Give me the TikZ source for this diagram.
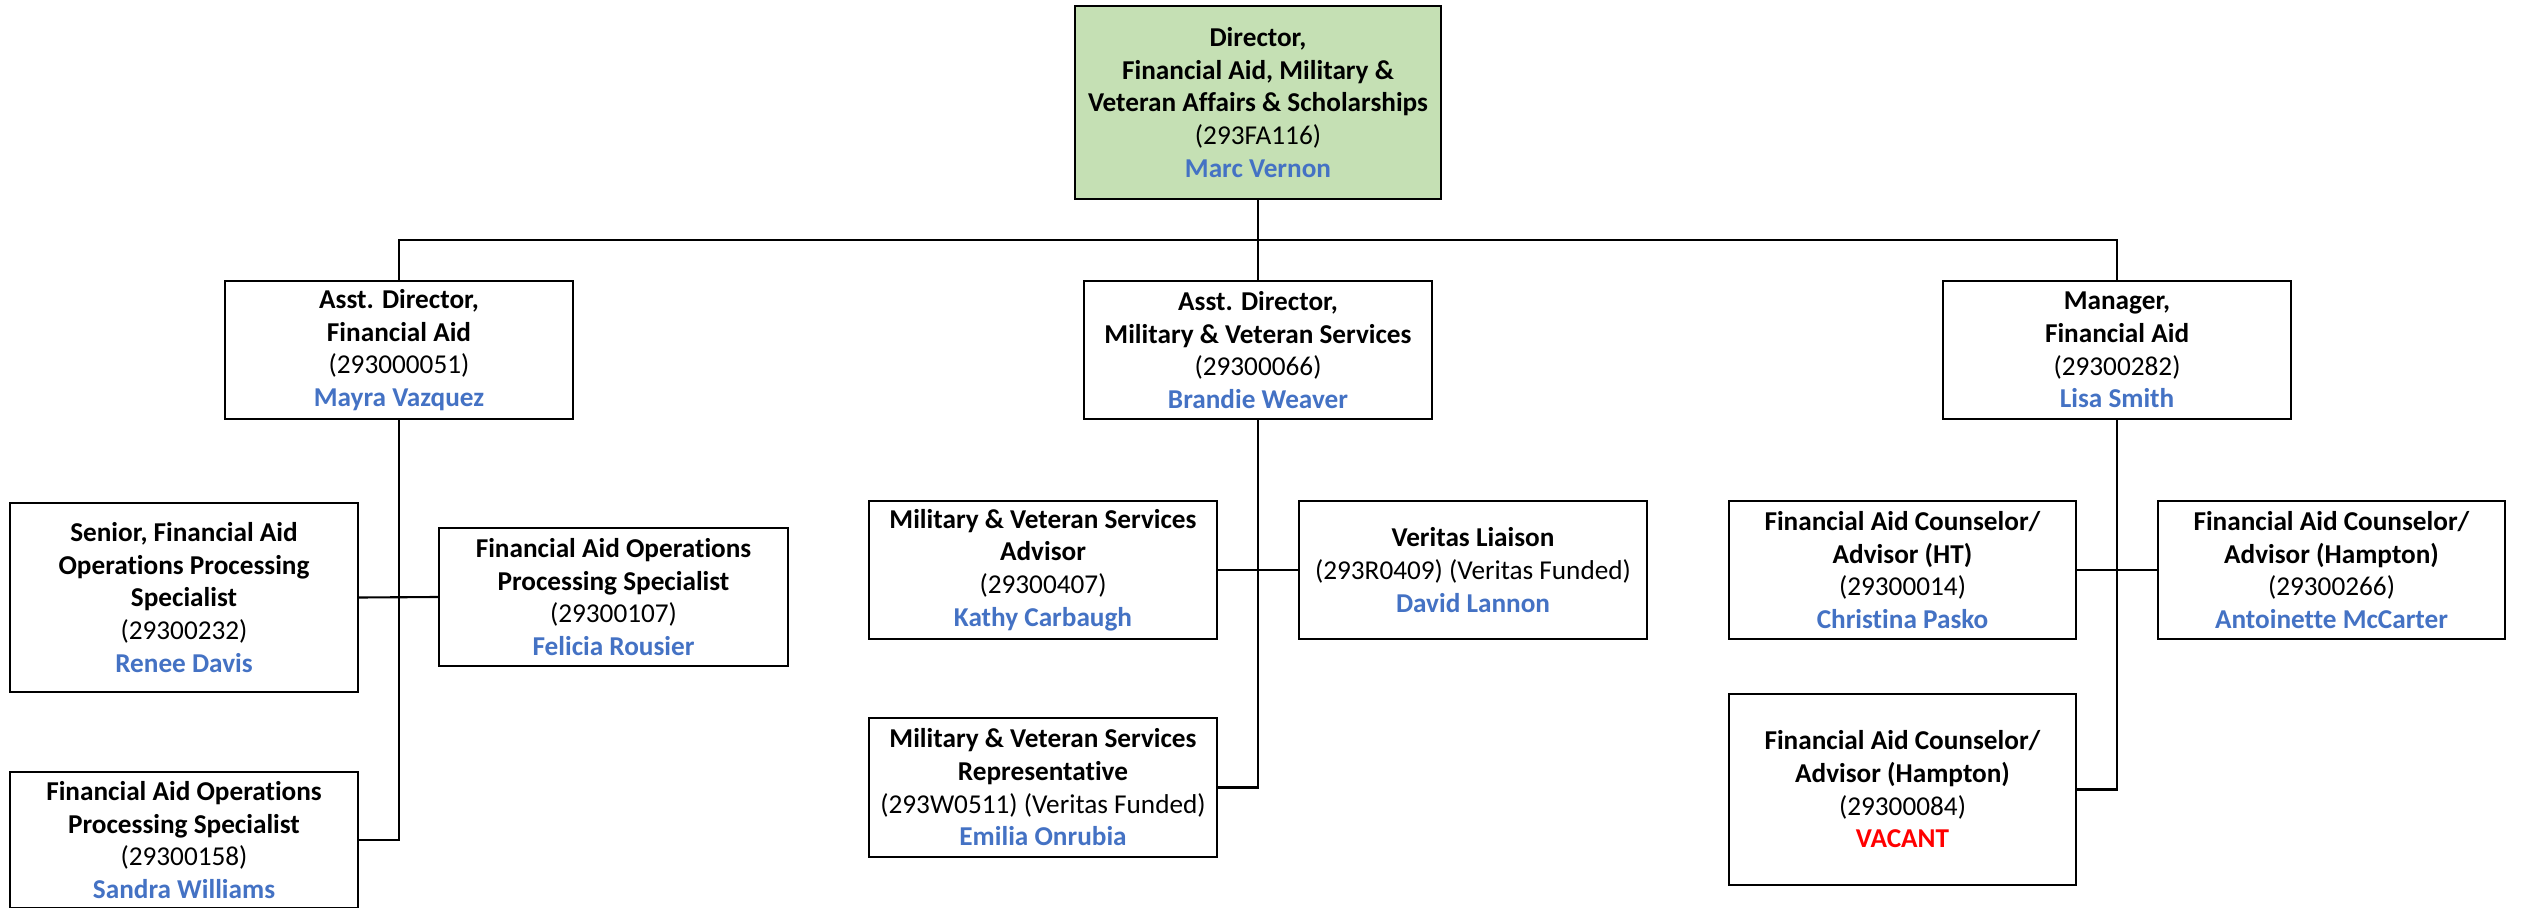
\documentclass[tikz,border=0pt]{standalone}
\usepackage{fontspec}
\setmainfont{Carlito}[Ligatures={NoCommon}]
\usepackage{tikz}
\definecolor{dirgreen}{RGB}{197, 224, 180}
\definecolor{nameblue}{RGB}{68, 114, 196}
\definecolor{vacantred}{RGB}{255, 0, 0}

\begin{document}
\begin{tikzpicture}[x=0.02cm, y=-0.02cm,
    box/.style={draw=black, line width=1.4pt, fill=white, align=center, inner sep=0pt,
                font=\fontsize{15.5}{18.6}\selectfont},
    link/.style={draw=black, line width=1.2pt}]
    \useasboundingbox (0,0) rectangle (2521,908);
    % top level
    \node[box, fill=dirgreen, minimum width=7.32cm, minimum height=3.86cm] (dir)    at (1258, 102.5)
        {\textbf{Director,}\\\textbf{Financial Aid, Military \&}\\\textbf{Veteran Affairs \& Scholarships}\\(293FA116)\\\textcolor{nameblue}{\textbf{Marc Vernon}}};
    % second level
    \node[box, minimum width=6.96cm, minimum height=2.76cm] (adfa)   at ( 399, 350)
        {\textbf{Asst. Director,}\\\textbf{Financial Aid}\\(293000051)\\\textcolor{nameblue}{\textbf{Mayra Vazquez}}};
    \node[box, minimum width=6.96cm, minimum height=2.76cm] (admvs)  at (1258, 350)
        {\textbf{Asst. Director,}\\\textbf{Military \& Veteran Services}\\(29300066)\\\textcolor{nameblue}{\textbf{Brandie Weaver}}};
    \node[box, minimum width=6.96cm, minimum height=2.76cm] (mgr)    at (2117, 350)
        {\textbf{Manager,}\\\textbf{Financial Aid}\\(29300282)\\\textcolor{nameblue}{\textbf{Lisa Smith}}};
    % financial aid staff
    \node[box, minimum width=6.96cm, minimum height=3.78cm] (senior) at ( 184, 597.5)
        {\textbf{Senior, Financial Aid}\\\textbf{Operations Processing}\\\textbf{Specialist}\\(29300232)\\\textcolor{nameblue}{\textbf{Renee Davis}}};
    \node[box, minimum width=6.98cm, minimum height=2.76cm] (fopsa)  at ( 613.5, 597)
        {\textbf{Financial Aid Operations}\\\textbf{Processing Specialist}\\(29300107)\\\textcolor{nameblue}{\textbf{Felicia Rousier}}};
    \node[box, minimum width=6.96cm, minimum height=2.72cm] (fopsb)  at ( 184, 840)
        {\textbf{Financial Aid Operations}\\\textbf{Processing Specialist}\\(29300158)\\\textcolor{nameblue}{\textbf{Sandra Williams}}};
    % military and veteran staff
    \node[box, minimum width=6.96cm, minimum height=2.76cm] (mvsadv) at (1043, 570)
        {\textbf{Military \& Veteran Services}\\\textbf{Advisor}\\(29300407)\\\textcolor{nameblue}{\textbf{Kathy Carbaugh}}};
    \node[box, minimum width=6.96cm, minimum height=2.76cm] (verit)  at (1473, 570)
        {\textbf{Veritas Liaison}\\(293R0409) (Veritas Funded)\\\textcolor{nameblue}{\textbf{David Lannon}}};
    \node[box, minimum width=6.96cm, minimum height=2.78cm] (mvsrep) at (1043, 787.5)
        {\textbf{Military \& Veteran Services}\\\textbf{Representative}\\(293W0511) (Veritas Funded)\\\textcolor{nameblue}{\textbf{Emilia Onrubia}}};
    % counselors
    \node[box, minimum width=6.94cm, minimum height=2.76cm] (cnsht)  at (1902.5, 570)
        {\textbf{Financial Aid Counselor/}\\\textbf{Advisor (HT)}\\(29300014)\\\textcolor{nameblue}{\textbf{Christina Pasko}}};
    \node[box, minimum width=6.94cm, minimum height=2.76cm] (cnshma) at (2331.5, 570)
        {\textbf{Financial Aid Counselor/}\\\textbf{Advisor (Hampton)}\\(29300266)\\\textcolor{nameblue}{\textbf{Antoinette McCarter}}};
    \node[box, minimum width=6.94cm, minimum height=3.82cm] (cnshmb) at (1902.5, 789.5)
        {\textbf{Financial Aid Counselor/}\\\textbf{Advisor (Hampton)}\\(29300084)\\\textcolor{vacantred}{\textbf{VACANT}}};
    % connectors
    \coordinate (bus) at (1258, 240);
    \draw[link] (dir.south) -- (admvs.north);
    \draw[link] (adfa.north) |- (bus) -| (mgr.north);
    \draw[link] (adfa.south) |- (fopsb.east);
    \draw[link] (senior.east) -- (fopsa.west);
    \draw[link] (admvs.south) |- (mvsrep.east);
    \draw[link] (mvsadv.east) -- (verit.west);
    \draw[link] (mgr.south) |- (cnshmb.east);
    \draw[link] (cnsht.east) -- (cnshma.west);
\end{tikzpicture}
\end{document}
